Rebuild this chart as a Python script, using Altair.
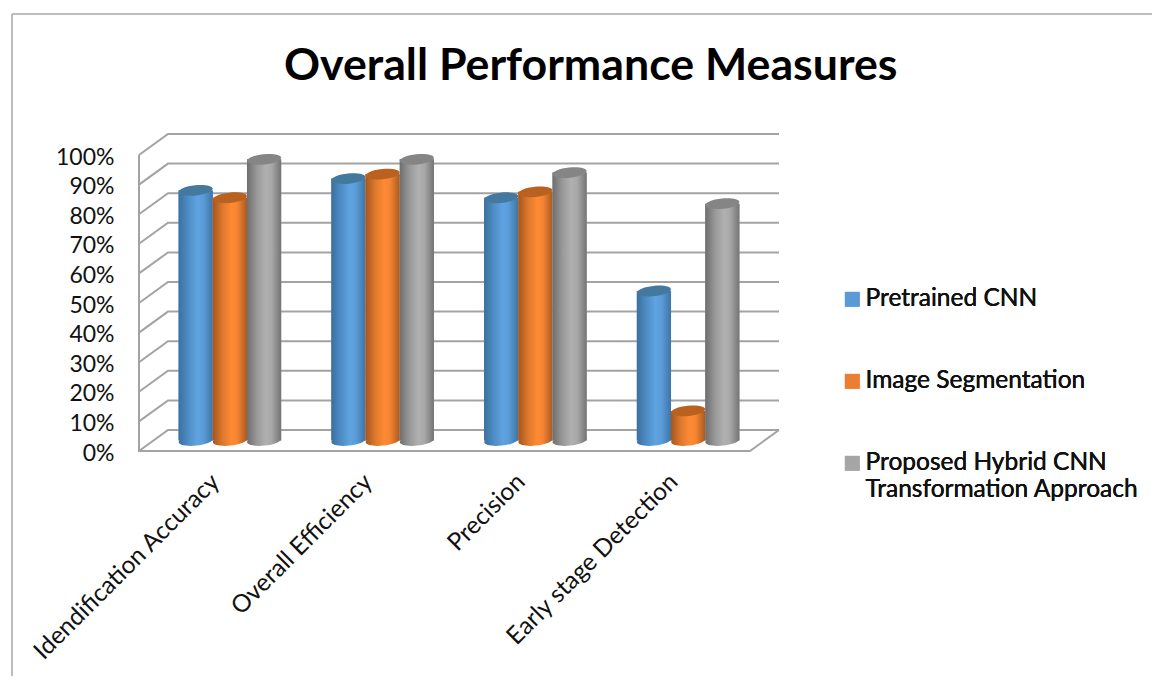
import altair as alt
import pandas as pd

categories = ["Idendification Accuracy", "Overall Efficiency", "Precision", "Early stage Detection"]
series = ["Pretrained CNN", "Image Segmentation", "Proposed Hybrid CNN Transformation Approach"]
pretrained = [84.5, 88.5, 82, 50.5]
segmentation = [82, 90, 84, 10]
hybrid = [95, 95, 90.5, 80]
ticks = list(range(0, 101, 10))
swatches = ["#5b9bd5", "#ed7d31", "#a5a5a5"]
tops = ["#44799f", "#b9621f", "#858585"]
ramps = [
    ["#3c6f9e", "#4f8fc8", "#5fa3e0", "#5a9cd8", "#3f74a5"],
    ["#a4561f", "#e07a2e", "#ff8a33", "#f58431", "#a85a22"],
    ["#6e6e6e", "#9a9a9a", "#b0b0b0", "#a8a8a8", "#747474"],
]

# oblique depth of the 3-D box, in data units
DX = 29 / 152.75
DY = 21 / 2.96
BAR = 34.2 / 152.75

ELLIPSE = "M-1,0A1,0.3 0 1,0 1,0A1,0.3 0 1,0 -1,0Z"

xs = alt.Scale(domain=[0, 4], nice=False, zero=False)
ys = alt.Scale(domain=[0, 100], nice=False)

# walls
wall_rows = []
for t in ticks:
    wall_rows += [
        {"line": f"g{t}", "o": 0, "x": 0, "y": t},
        {"line": f"g{t}", "o": 1, "x": DX, "y": t + DY},
        {"line": f"g{t}", "o": 2, "x": 4 + DX, "y": t + DY},
    ]
wall_rows += [
    {"line": "floor", "o": 0, "x": 0, "y": 100},
    {"line": "floor", "o": 1, "x": 0, "y": 0},
    {"line": "floor", "o": 2, "x": 4, "y": 0},
    {"line": "floor", "o": 3, "x": 4 + DX, "y": DY},
]
walls_df = pd.DataFrame(wall_rows)

axis_x = alt.Axis(
    values=[0.5, 1.5, 2.5, 3.5],
    labelExpr="['" + "','".join(categories) + "'][floor(datum.value)]",
    labelAngle=-45, labelAlign="right", labelBaseline="middle",
    labelFont="Lato", labelFontSize=24.5, labelColor="#111111", labelPadding=27,
    labelLimit=400, labelOverlap=False, domain=False, ticks=False, grid=False, title=None,
)
axis_y = alt.Axis(
    values=ticks, format="d", labelExpr="datum.value + '%'",
    labelFont="Lato", labelFontSize=23, labelColor="#111111", labelPadding=25,
    labelOffset=2, labelOverlap=False, domain=False, ticks=False, grid=False, title=None,
)
X = lambda f: alt.X(f, scale=xs, axis=axis_x)
Y = lambda f: alt.Y(f, scale=ys, axis=axis_y)

walls = alt.Chart(walls_df).mark_line(color="#a3a3a3", strokeWidth=2, clip=False).encode(
    x=X("x:Q"), y=Y("y:Q"), detail="line:N", order="o:O",
)

frame = [
    alt.Chart(pd.DataFrame({"a": [0]})).mark_rule(color="#a6a6a6", strokeWidth=1.5).encode(
        x=alt.value(-127), x2=alt.value(1013), y=alt.value(-141)),
    alt.Chart(pd.DataFrame({"a": [0]})).mark_rule(color="#a6a6a6", strokeWidth=1.5).encode(
        x=alt.value(-127), y=alt.value(-141), y2=alt.value(521)),
]

rows = []
for s, vals in enumerate([pretrained, segmentation, hybrid]):
    for c, v in enumerate(vals):
        cx = c + 0.5 + DX / 2 + (s - 1) * BAR
        rows.append({
            "series": series[s], "s": s, "cat": categories[c], "value": v,
            "x0": cx - BAR / 2, "x1": cx + BAR / 2, "cx": cx,
            "base": DY / 2, "top": v + DY / 2,
        })
df = pd.DataFrame(rows)

layers = [walls] + frame

color = alt.Color(
    "series:N",
    scale=alt.Scale(domain=series, range=swatches),
    legend=alt.Legend(
        orient="none", legendX=701, legendY=132, title=None,
        symbolType="square", symbolSize=215, symbolStrokeWidth=0,
        labelFont="Lato", labelFontSize=24.5, labelColor="#111111", labelLimit=400,
        rowPadding=57, labelOffset=1,
        labelExpr="datum.label == '" + series[2] + "' ? ['Proposed Hybrid CNN','Transformation Approach'] : datum.label",
    ),
)

for s in range(3):
    part = df[df["s"] == s]
    base = alt.Chart(part)
    grad = alt.Gradient(
        gradient="linear", x1=0, x2=1, y1=0, y2=0,
        stops=[alt.GradientStop(offset=o, color=c) for o, c in zip([0, 0.3, 0.55, 0.72, 1], ramps[s])],
    )
    geo = dict(x=X("x0:Q"), x2="x1:Q", y=Y("base:Q"), y2="top:Q")
    layers.append(base.mark_bar(clip=False).encode(color=color, **geo))
    # bottom cap
    layers.append(base.mark_point(shape=ELLIPSE, filled=True, size=34.2 ** 2, opacity=1, fill=grad, angle=354).encode(
        x=X("cx:Q"), y=Y("base:Q")))
    layers.append(base.mark_bar(clip=False, fill=grad).encode(**geo))
    # top cap
    layers.append(base.mark_point(shape=ELLIPSE, filled=True, size=34.2 ** 2, opacity=1, fill=tops[s], angle=354).encode(
        x=X("cx:Q"), y=Y("top:Q")))

chart = alt.layer(*layers).resolve_scale(color="independent").properties(
    width=611, height=296,
    padding={"left": 131, "top": 147, "right": 402, "bottom": 225},
    autosize=alt.AutoSizeParams(type="none"),
    background="white",
    title=alt.TitleParams(
        "Overall Performance Measures", font="Lato", fontSize=44.7, fontWeight="bold",
        color="black", anchor="start", dx=145, offset=-76, frame="group",
    ),
).configure_view(stroke=None)

chart.save("out.html", embed_options={"renderer": "svg", "actions": False})
